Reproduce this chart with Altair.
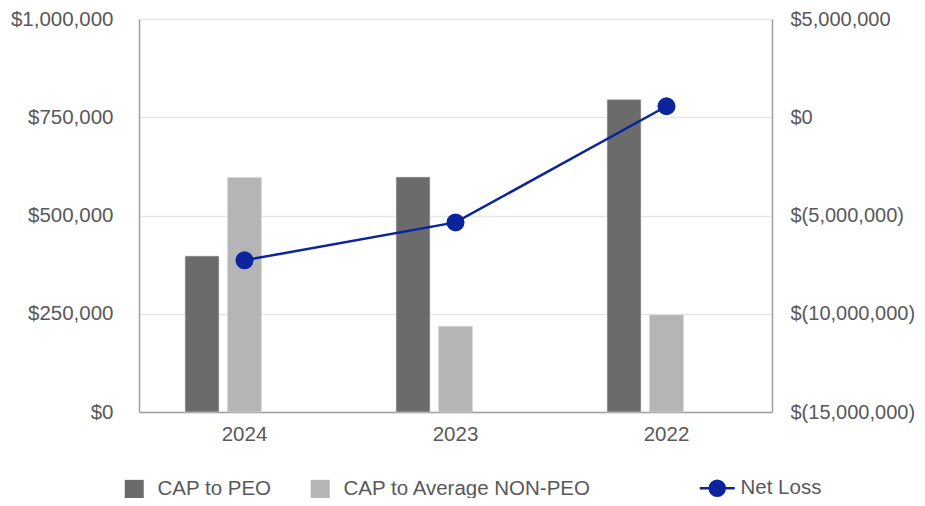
import altair as alt
import pandas as pd

years = ["2024", "2023", "2022"]
cap_peo = [397000, 598000, 795000]
cap_non_peo = [597000, 218000, 247000]
net_loss = [-7280000, -5350000, 560000]

series_names = ["CAP to PEO", "CAP to Average NON-PEO"]
bar_colors = ["#6b6b6b", "#b5b5b5"]
line_name = "Net Loss"
line_color = "#0b239b"

left_ticks = [0, 250000, 500000, 750000, 1000000]
right_ticks = [-15000000, -10000000, -5000000, 0, 5000000]

FONT = "Liberation Sans"
TXT = "#595959"
FS = 20.5

rows = []
for i, y in enumerate(years):
    rows.append({"year": y, "series": series_names[0], "value": cap_peo[i]})
    rows.append({"year": y, "series": series_names[1], "value": cap_non_peo[i]})
bars_df = pd.DataFrame(rows)
line_df = pd.DataFrame({"year": years, "net": net_loss, "series": [line_name] * 3})

x_enc = alt.X(
    "year:N",
    sort=years,
    title=None,
    scale=alt.Scale(paddingInner=0.396, paddingOuter=0.198),
    axis=alt.Axis(labelAngle=0, ticks=False, domainColor="#a0a0a0", domainWidth=1.5,
                  labelPadding=12, labelFontSize=FS, labelColor=TXT, labelFont=FONT, grid=False),
)

bars = alt.Chart(bars_df).mark_bar(stroke="#d9d9d9", strokeWidth=0.6).encode(
    x=x_enc,
    xOffset=alt.XOffset("series:N", scale=alt.Scale(domain=series_names + ["_spare"], paddingInner=0.2, paddingOuter=0.1)),
    y=alt.Y(
        "value:Q",
        title=None,
        scale=alt.Scale(domain=[0, 1000000], nice=False),
        axis=alt.Axis(values=left_ticks, format="$,.0f", ticks=False, domainColor="#a0a0a0", domainWidth=1.5,
                      gridColor="#e6e6e6", gridWidth=1.5, labelPadding=26, labelFontSize=FS,
                      labelColor=TXT, labelFont=FONT),
    ),
    color=alt.Color(
        "series:N",
        scale=alt.Scale(domain=series_names, range=bar_colors),
        legend=alt.Legend(
            title=None, orient="none", direction="horizontal", legendX=-15, legendY=460,
            symbolType="square", symbolSize=361, symbolStrokeWidth=0, labelOffset=13,
            columnPadding=38, labelFontSize=FS, labelColor=TXT, labelFont=FONT, labelLimit=0,
        ),
    ),
)

right_axis = alt.Axis(
    orient="right", values=right_ticks, ticks=False, grid=False, domainColor="#a0a0a0", domainWidth=1.5,
    labelPadding=18, labelFontSize=20, labelColor=TXT, labelFont=FONT, labelLimit=0,
    labelExpr="datum.value < 0 ? '$(' + format(-datum.value, ',') + ')' : '$' + format(datum.value, ',')",
)
y_scale = alt.Scale(domain=[-15000000, 5000000], nice=False)

line = alt.Chart(line_df).mark_line(strokeWidth=2.5).encode(
    x=alt.X("year:N", sort=years),
    y=alt.Y("net:Q", scale=y_scale, axis=None, title=None),
    color=alt.Color("series:N", scale=alt.Scale(domain=[line_name], range=[line_color]), legend=None),
)

sym_path = "M-2.06,0L2.06,0M-0.88,0A0.88,0.88,0,1,1,0.88,0A0.88,0.88,0,1,1,-0.88,0Z"
points = alt.Chart(line_df).mark_point(filled=True, size=324, opacity=1).encode(
    x=alt.X("year:N", sort=years),
    y=alt.Y("net:Q", scale=y_scale, axis=right_axis, title=None),
    color=alt.Color(
        "series:N",
        scale=alt.Scale(domain=[line_name], range=[line_color]),
        legend=alt.Legend(
            title=None, orient="none", legendX=568, legendY=459,
            symbolType=sym_path, symbolSize=289, symbolStrokeColor=line_color,
            symbolStrokeWidth=2.5, symbolFillColor=line_color, labelOffset=13,
            labelFontSize=FS, labelColor=TXT, labelFont=FONT, labelLimit=0,
        ),
    ),
)

chart = (
    alt.layer(bars, line, points)
    .resolve_scale(y="independent", color="independent")
    .properties(
        width=633,
        height=393,
        autosize=alt.AutoSizeParams(type="none"),
        padding={"left": 131, "top": 11, "right": 145, "bottom": 86},
    )
    .configure_view(stroke=None)
    .configure(font=FONT)
)

chart.save("out.html", embed_options={"renderer": "svg", "actions": False})
